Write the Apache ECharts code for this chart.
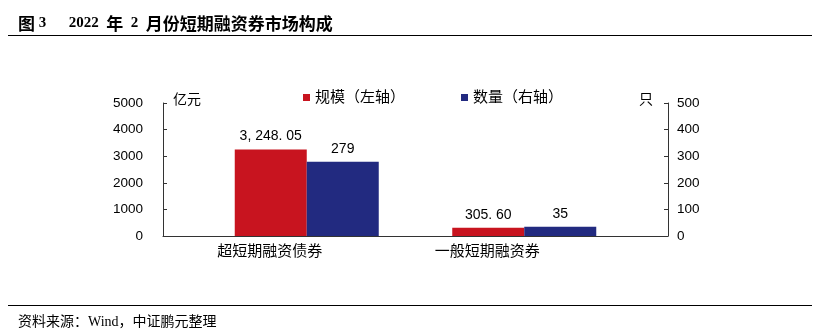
<!DOCTYPE html>
<html><head><meta charset="utf-8">
<script src="https://cdn.jsdelivr.net/npm/echarts@6/dist/echarts.min.js"></script>
<style>html,body{margin:0;padding:0;background:#fff}#c{width:822px;height:335px}</style>
</head><body><div id="c"></div>
<script>
const categories = ['超短期融资债券', '一般短期融资券'];
const scaleValues = [3248.05, 305.60];   // 规模（左轴）亿元
const countValues = [279, 35];           // 数量（右轴）只
const leftTicks = [0, 5000, 1000];       // min, max, interval
const rightTicks = [0, 500, 100];
const seriesNames = ['规模（左轴）', '数量（右轴）'];
const titleText = '{c|图}{n| 3      2022  }{c|年}{n|  2  }{c|月份短期融资券市场构成}';
const sourceText = '资料来源：Wind，中证鹏元整理';

const RED = '#C8141F', BLUE = '#222A80';
const cjk = '"Liberation Sans","Noto Sans CJK SC",sans-serif';
const serif = '"Liberation Serif","Noto Sans CJK SC",serif';
const axisLineColor = '#333';

const chart = echarts.init(document.getElementById('c'), null, {renderer: 'canvas'});
chart.setOption({
  animation: false,
  title: {
    text: titleText, left: 13, top: 10,
    textStyle: {
      fontFamily: serif, fontWeight: 'bold', fontSize: 15, color: '#000',
      rich: {
        c: {fontFamily: '"Noto Sans CJK SC",sans-serif', fontWeight: 'bold', fontSize: 17, color: '#000'},
        n: {fontFamily: serif, fontWeight: 'bold', fontSize: 15, color: '#000'}
      }
    }
  },
  graphic: [
    {type: 'line', shape: {x1: 8, y1: 35.5, x2: 812, y2: 35.5}, style: {stroke: '#000', lineWidth: 1}},
    {type: 'line', shape: {x1: 8, y1: 305.5, x2: 812, y2: 305.5}, style: {stroke: '#000', lineWidth: 1}},
    {type: 'text', left: 18, top: 315, style: {text: sourceText, fontSize: 14, fill: '#000', fontFamily: serif}}
  ],
  legend: {
    left: 298, top: 85, itemWidth: 7, itemHeight: 7, itemGap: 56, icon: 'rect',
    textStyle: {fontSize: 15, fontFamily: cjk, color: '#000'},
    data: seriesNames
  },
  grid: [
    {left: 198, right: 189, top: 103, bottom: 99, containLabel: false},
    {left: 163, right: 154, top: 103, bottom: 99, containLabel: false}
  ],
  xAxis: [
    {type: 'category', gridIndex: 0, data: categories,
     axisLine: {show: false}, axisTick: {show: false},
     axisLabel: {fontSize: 15, fontFamily: cjk, color: '#000', margin: 8, padding: [0, 74, 0, 0]}},
    {type: 'category', gridIndex: 1, data: [''],
     axisLine: {show: true, lineStyle: {color: axisLineColor, width: 1}}, axisTick: {show: false}, axisLabel: {show: false}}
  ],
  yAxis: [
    {type: 'value', gridIndex: 0, position: 'left', offset: 35,
     min: leftTicks[0], max: leftTicks[1], interval: leftTicks[2],
     name: '亿元', nameLocation: 'end', nameGap: 3,
     nameTextStyle: {align: 'left', verticalAlign: 'middle', padding: [0, 0, 0, 10], fontSize: 14, fontFamily: cjk, color: '#000'},
     axisLine: {show: true, lineStyle: {color: axisLineColor}},
     axisTick: {show: true, inside: true, length: 4, lineStyle: {color: axisLineColor}},
     axisLabel: {fontSize: 13.5, fontFamily: cjk, color: '#000', margin: 20, formatter: v => String(v)},
     splitLine: {show: false}},
    {type: 'value', gridIndex: 0, position: 'right', offset: 35,
     min: rightTicks[0], max: rightTicks[1], interval: rightTicks[2],
     name: '只', nameLocation: 'end', nameGap: 3,
     nameTextStyle: {align: 'right', verticalAlign: 'middle', padding: [0, 15, 0, 0], fontSize: 14, fontFamily: cjk, color: '#000'},
     axisLine: {show: true, lineStyle: {color: axisLineColor}},
     axisTick: {show: true, inside: true, length: 4, lineStyle: {color: axisLineColor}},
     axisLabel: {fontSize: 13.5, fontFamily: cjk, color: '#000', margin: 9, formatter: v => String(v)},
     splitLine: {show: false}},
    {type: 'value', gridIndex: 1, show: false}
  ],
  series: [
    {name: seriesNames[0], type: 'bar', xAxisIndex: 0, yAxisIndex: 0, data: scaleValues,
     barWidth: 72, barGap: '0%', itemStyle: {color: RED},
     label: {show: true, position: 'top', distance: 6, fontSize: 14, fontFamily: cjk, color: '#000',
       formatter: p => p.value.toLocaleString('en-US', {minimumFractionDigits: 2, maximumFractionDigits: 2}).replace(/([,.])/g, '$1 ')}},
    {name: seriesNames[1], type: 'bar', xAxisIndex: 0, yAxisIndex: 1, data: countValues,
     barWidth: 72, barGap: '0%', itemStyle: {color: BLUE},
     label: {show: true, position: 'top', distance: 6, fontSize: 14, fontFamily: cjk, color: '#000'}}
  ]
});
</script></body></html>
